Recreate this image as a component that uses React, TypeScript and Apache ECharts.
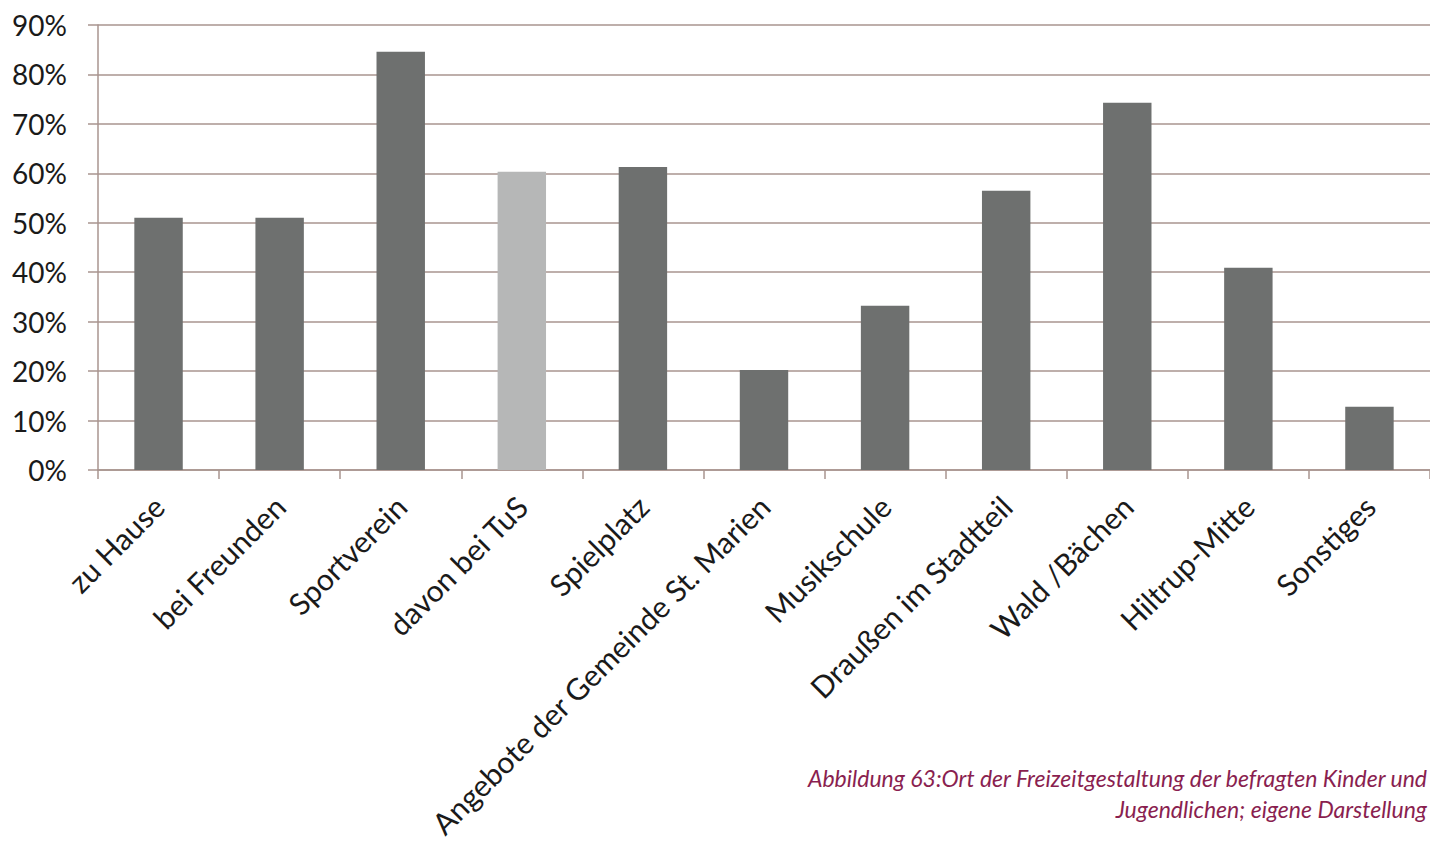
import React, { useEffect, useRef } from "react";
import * as echarts from "echarts";

// Places where children and teenagers spend their free time (share of respondents, %)
const categories: string[] = [
  "zu Hause",
  "bei Freunden",
  "Sportverein",
  "davon bei TuS",
  "Spielplatz",
  "Angebote der Gemeinde St. Marien",
  "Musikschule",
  "Draußen im Stadtteil",
  "Wald /Bächen",
  "Hiltrup-Mitte",
  "Sonstiges",
];
const shares: number[] = [51, 51, 84.6, 60.3, 61.3, 20.2, 33.2, 56.5, 74.3, 40.9, 12.8];
// "davon bei TuS" is a subset of "Sportverein" and is shown in a lighter tone
const subsetCategory = "davon bei TuS";
const yTicks = { min: 0, max: 90, interval: 10 };
const captionLines: string[] = [
  "Abbildung 63:Ort der Freizeitgestaltung der befragten Kinder und",
  "Jugendlichen; eigene Darstellung",
];

const GRID_COLOR = "#a8958f";
const BAR_COLOR = "#6e706f";
const BAR_LIGHT = "#b6b7b7";
const LABEL_FONT = "Lato, 'Open Sans', sans-serif";
const CAPTION_STYLE = {
  fontSize: 23,
  fontStyle: "italic",
  fontFamily: "Lato, 'Open Sans', sans-serif",
  fill: "#8a1f50",
  align: "right",
};

export default function App() {
  const ref = useRef<HTMLDivElement>(null);

  useEffect(() => {
    if (!ref.current) return;
    const chart = echarts.init(ref.current, undefined, { renderer: "svg" });
    chart.setOption({
      animation: false,
      backgroundColor: "#ffffff",
      grid: { left: 98, right: 0, top: 25, bottom: 380, containLabel: false },
      xAxis: {
        type: "category",
        data: categories,
        axisLine: { show: true, lineStyle: { color: GRID_COLOR, width: 1.5 } },
        axisTick: { show: true, length: 9, lineStyle: { color: GRID_COLOR, width: 1.5 } },
        axisLabel: {
          interval: 0,
          rotate: 45,
          margin: 31,
          fontSize: 30,
          color: "#1a1a1a",
          fontFamily: LABEL_FONT,
        },
        splitLine: { show: false },
      },
      yAxis: {
        type: "value",
        min: yTicks.min,
        max: yTicks.max,
        interval: yTicks.interval,
        axisLine: { show: true, lineStyle: { color: GRID_COLOR, width: 1.5 } },
        axisTick: { show: true, length: 10, lineStyle: { color: GRID_COLOR, width: 1.5 } },
        axisLabel: {
          formatter: "{value}%",
          margin: 31,
          fontSize: 28,
          color: "#1a1a1a",
          fontFamily: LABEL_FONT,
        },
        splitLine: { show: true, lineStyle: { color: GRID_COLOR, width: 1.5 } },
      },
      series: [
        {
          type: "bar",
          barWidth: "40%",
          data: shares.map((v, i) => ({
            value: v,
            itemStyle: { color: categories[i] === subsetCategory ? BAR_LIGHT : BAR_COLOR },
          })),
        },
      ],
      graphic: [
        {
          type: "text",
          x: 1427,
          y: 766,
          style: { ...CAPTION_STYLE, text: captionLines[0] },
        },
        {
          type: "text",
          x: 1427,
          y: 797,
          style: { ...CAPTION_STYLE, text: captionLines[1] },
        },
      ],
    });
    return () => chart.dispose();
  }, []);

  return (
    <div
      ref={ref}
      style={{ position: "fixed", left: 0, top: 0, width: 1430, height: 850, background: "#fff" }}
    />
  );
}
